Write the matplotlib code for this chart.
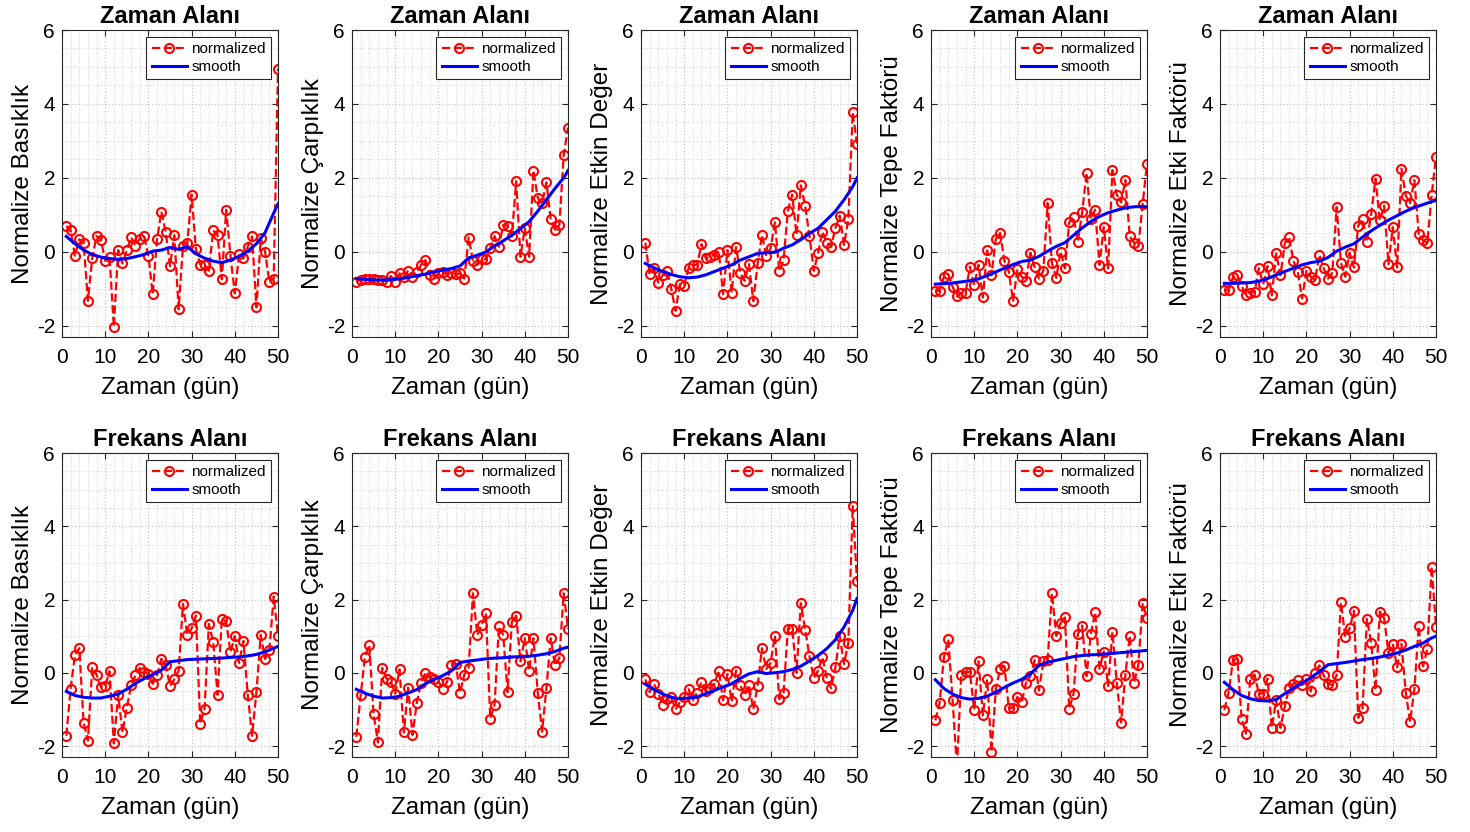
import matplotlib
matplotlib.use("Agg")
import matplotlib.pyplot as plt
from matplotlib.ticker import MultipleLocator

plt.rcParams['font.family'] = ['Liberation Sans', 'DejaVu Sans']
plt.rcParams['axes.unicode_minus'] = False

# gunler
days = list(range(1, 51))
smooth_days = list(range(1, 50, 2)) + [50]

# Zaman alani - normalized
zaman_basiklik = [0.7, 0.58, -0.1, 0.34, 0.25, -1.32, -0.17, 0.43, 0.33, -0.24,
                  -0.13, -2.03, 0.05, -0.31, 0.04, 0.4, 0.16, 0.36, 0.43, -0.11,
                  -1.14, 0.34, 1.09, 0.54, -0.38, 0.45, -1.55, 0.16, 0.24, 1.55,
                  0.07, -0.34, -0.34, -0.51, 0.58, 0.46, -0.74, 1.14, -0.11, -1.12,
                  -0.06, -0.17, 0.14, 0.42, -1.5, 0.37, 0.01, -0.81, -0.72, 4.95]
zaman_carpiklik = [-0.8, -0.76, -0.74, -0.74, -0.72, -0.76, -0.76, -0.8, -0.65, -0.8,
                   -0.58, -0.67, -0.51, -0.67, -0.53, -0.35, -0.22, -0.62, -0.74, -0.58,
                   -0.53, -0.62, -0.56, -0.6, -0.58, -0.72, 0.39, -0.24, -0.35, -0.2,
                   -0.2, 0.1, 0.43, 0.14, 0.73, 0.71, 0.42, 1.91, -0.13, 0.64,
                   -0.13, 2.2, 1.46, 1.32, 1.88, 0.89, 0.6, 0.73, 2.61, 3.36]
zaman_etkin = [0.25, -0.61, -0.44, -0.83, -0.63, -0.51, -0.99, -1.59, -0.87, -0.91,
               -0.44, -0.35, -0.35, 0.21, -0.17, -0.13, -0.08, 0.01, -1.14, 0.05,
               -1.1, 0.13, -0.58, -0.78, -0.33, -1.33, -0.31, 0.46, -0.11, 0.1,
               0.8, -0.52, -0.22, 1.12, 1.55, 0.46, 1.8, 1.25, 0.43, -0.51,
               -0.02, 0.55, 0.25, 0.14, 0.64, 0.98, 0.19, 0.89, 3.77, 2.93]
zaman_tepe = [-1.05, -1.05, -0.67, -0.6, -0.94, -1.2, -1.12, -1.1, -0.4, -0.9,
              -0.35, -1.23, 0.04, -0.63, 0.35, 0.51, -0.24, -0.53, -1.32, -0.47,
              -0.67, -0.78, -0.02, -0.42, -0.72, -0.51, 1.32, -0.31, -0.7, 0.01,
              -0.44, 0.8, 0.94, 0.28, 1.07, 2.14, 0.89, 1.14, -0.35, 0.67,
              -0.44, 2.21, 1.55, 1.34, 1.94, 0.42, 0.25, 0.16, 1.3, 2.39]
zaman_etki = [-1.03, -1.03, -0.69, -0.63, -0.91, -1.17, -1.1, -1.08, -0.44, -0.87,
              -0.38, -1.17, -0.04, -0.63, 0.24, 0.4, -0.24, -0.53, -1.26, -0.51,
              -0.67, -0.76, -0.08, -0.44, -0.72, -0.56, 1.21, -0.29, -0.67, -0.02,
              -0.42, 0.71, 0.89, 0.28, 1.03, 1.98, 0.85, 1.25, -0.33, 0.67,
              -0.42, 2.25, 1.52, 1.32, 1.94, 0.49, 0.31, 0.25, 1.55, 2.57]

# Frekans alani - normalized
frekans_basiklik = [-1.72, -0.43, 0.49, 0.67, -1.36, -1.85, 0.15, -0.05, -0.39, -0.36,
                    0.04, -1.93, -0.6, -1.63, -0.95, -0.34, -0.07, 0.13, 0.02, -0.03,
                    -0.3, -0.07, 0.38, 0.2, -0.36, -0.18, 0.06, 1.88, 1.03, 1.21,
                    1.56, -1.39, -0.98, 1.33, 0.85, -0.6, 1.47, 1.4, 0.56, 1.0,
                    0.27, 0.87, -0.6, -1.72, -0.53, 1.03, 0.38, 0.61, 2.08, 1.01]
frekans_carpiklik = [-1.75, -0.62, 0.43, 0.76, -1.13, -1.9, 0.13, -0.16, -0.24, -0.57,
                     0.09, -1.63, -0.41, -1.7, -0.82, -0.27, 0.0, -0.12, -0.18, -0.24,
                     -0.43, -0.25, 0.22, 0.24, -0.54, -0.05, 0.13, 2.17, 1.03, 1.3,
                     1.63, -1.25, -0.87, 1.27, 1.03, -0.53, 1.39, 1.56, 0.31, 0.94,
                     0.06, 0.94, -0.54, -1.61, -0.42, 0.94, 0.2, 0.4, 2.17, 1.2]
frekans_etkin = [-0.18, -0.53, -0.3, -0.57, -0.87, -0.72, -0.66, -1.0, -0.8, -0.66,
                 -0.45, -0.75, -0.54, -0.25, -0.51, -0.42, -0.3, 0.06, -0.75, -0.03,
                 -0.78, 0.06, -0.34, -0.62, -0.33, -1.0, -0.36, 0.67, 0.1, 0.27,
                 1.01, -0.72, -0.54, 1.2, 1.2, 0.0, 1.9, 1.18, 0.45, -0.14,
                 0.06, 0.43, -0.14, -0.42, 0.15, 1.01, 0.24, 0.82, 4.55, 2.51]
frekans_tepe = [-1.3, -0.82, 0.43, 0.91, -0.75, -2.6, -0.05, 0.02, 0.02, -1.02,
                0.31, -1.16, -0.18, -2.16, -0.45, 0.11, 0.18, -0.96, -0.96, -0.66,
                -0.8, -0.27, -0.09, 0.34, -0.48, 0.31, 0.36, 2.17, 1.01, 1.36,
                1.51, -0.98, -0.57, 1.06, 1.29, -0.09, 1.06, 1.65, 0.11, 0.58,
                -0.36, 1.12, -0.27, -1.36, -0.05, 1.01, -0.27, 0.22, 1.9, 1.49]
frekans_etki = [-1.02, -0.54, 0.34, 0.38, -1.25, -1.66, -0.18, -0.05, -0.57, -0.57,
                -0.16, -1.5, -0.75, -1.5, -0.91, -0.42, -0.3, -0.21, -0.34, -0.18,
                -0.51, 0.0, 0.2, -0.07, -0.3, -0.34, -0.07, 1.92, 0.97, 1.21,
                1.69, -1.23, -0.96, 1.47, 0.82, -0.48, 1.67, 1.49, 0.54, 0.79,
                0.15, 0.79, -0.54, -1.34, -0.45, 1.27, 0.18, 0.65, 2.9, 1.24]

# smooth egrileri (smooth_days noktalarinda)
smooth_zaman_basiklik = [0.42, 0.22, 0.05, -0.07, -0.14, -0.18, -0.2, -0.18, -0.13, -0.07, 0.02, 0.05, 0.12,
                         0.07, 0.14, -0.05, -0.17, -0.25, -0.29, -0.22, -0.12, 0.02, 0.22, 0.52, 1.05, 1.3]
smooth_zaman_carpiklik = [-0.72, -0.74, -0.76, -0.76, -0.75, -0.73, -0.69, -0.64, -0.6, -0.54, -0.49, -0.45, -0.38,
                          -0.16, -0.09, 0.0, 0.16, 0.3, 0.45, 0.63, 0.82, 1.1, 1.41, 1.72, 2.0, 2.2]
smooth_zaman_etkin = [-0.31, -0.43, -0.53, -0.61, -0.67, -0.7, -0.68, -0.62, -0.53, -0.44, -0.35, -0.22, -0.13,
                      -0.04, -0.02, -0.01, 0.1, 0.19, 0.33, 0.5, 0.64, 0.87, 1.1, 1.41, 1.76, 2.0]
smooth_zaman_tepe = [-0.87, -0.86, -0.84, -0.81, -0.78, -0.73, -0.64, -0.54, -0.44, -0.34, -0.26, -0.22, -0.12,
                     0.02, 0.15, 0.25, 0.45, 0.65, 0.82, 0.96, 1.06, 1.13, 1.19, 1.22, 1.23, 1.22]
smooth_zaman_etki = [-0.85, -0.85, -0.84, -0.83, -0.79, -0.72, -0.62, -0.53, -0.44, -0.35, -0.29, -0.25, -0.15,
                     0.02, 0.13, 0.22, 0.4, 0.57, 0.72, 0.86, 0.98, 1.1, 1.2, 1.28, 1.36, 1.39]
smooth_frekans_basiklik = [-0.51, -0.62, -0.67, -0.69, -0.69, -0.64, -0.58, -0.45, -0.29, -0.16, -0.05, 0.07, 0.3,
                           0.33, 0.36, 0.37, 0.38, 0.39, 0.4, 0.42, 0.43, 0.46, 0.5, 0.57, 0.67, 0.72]
smooth_frekans_carpiklik = [-0.45, -0.56, -0.64, -0.69, -0.68, -0.64, -0.55, -0.46, -0.3, -0.18, -0.08, 0.05, 0.28,
                            0.32, 0.35, 0.38, 0.4, 0.41, 0.43, 0.44, 0.45, 0.48, 0.52, 0.58, 0.67, 0.7]
smooth_frekans_etkin = [-0.31, -0.46, -0.58, -0.67, -0.71, -0.69, -0.66, -0.57, -0.48, -0.39, -0.3, -0.15, -0.03,
                        0.03, -0.02, 0.0, 0.03, 0.09, 0.18, 0.32, 0.47, 0.66, 0.9, 1.25, 1.7, 2.03]
smooth_frekans_tepe = [-0.19, -0.43, -0.58, -0.68, -0.72, -0.7, -0.64, -0.53, -0.4, -0.28, -0.18, -0.03, 0.2,
                       0.29, 0.34, 0.39, 0.44, 0.47, 0.49, 0.5, 0.52, 0.54, 0.56, 0.58, 0.6, 0.61]
smooth_frekans_etki = [-0.26, -0.46, -0.62, -0.71, -0.76, -0.77, -0.73, -0.57, -0.42, -0.28, -0.14, 0.03, 0.22,
                       0.25, 0.28, 0.32, 0.36, 0.39, 0.43, 0.48, 0.54, 0.62, 0.72, 0.81, 0.95, 1.0]

ylabels = ['Normalize Basıklık', 'Normalize Çarpıklık', 'Normalize Etkin Değer',
           'Normalize Tepe Faktörü', 'Normalize Etki Faktörü']
titles = ['Zaman Alanı', 'Frekans Alanı']

rows = [
    [(zaman_basiklik, smooth_zaman_basiklik), (zaman_carpiklik, smooth_zaman_carpiklik),
     (zaman_etkin, smooth_zaman_etkin), (zaman_tepe, smooth_zaman_tepe),
     (zaman_etki, smooth_zaman_etki)],
    [(frekans_basiklik, smooth_frekans_basiklik), (frekans_carpiklik, smooth_frekans_carpiklik),
     (frekans_etkin, smooth_frekans_etkin), (frekans_tepe, smooth_frekans_tepe),
     (frekans_etki, smooth_frekans_etki)],
]

W, H = 1470, 832
fig = plt.figure(figsize=(W / 100, H / 100), dpi=100)

lefts = [62, 352, 641, 931, 1220]
tops = [30, 453]
bottoms = [337, 757]
ax_w = 216

axis_col = '#262626'

for r in range(2):
    for c in range(5):
        norm, smooth = rows[r][c]
        ax = fig.add_axes([lefts[c] / W, 1 - bottoms[r] / H, ax_w / W, (bottoms[r] - tops[r]) / H])
        ax.plot(days, norm, '--o', color='red', linewidth=1.6, markersize=6.5,
                markerfacecolor='none', markeredgewidth=1.5, label='normalized')
        ax.plot(smooth_days, smooth, '-', color='blue', linewidth=2.2, label='smooth')
        ax.set_xlim(0, 50)
        ax.set_ylim(-2.3, 6)
        ax.set_xticks([0, 10, 20, 30, 40, 50])
        ax.set_yticks([-2, 0, 2, 4, 6])
        ax.xaxis.set_minor_locator(MultipleLocator(2))
        ax.yaxis.set_minor_locator(MultipleLocator(0.5))
        ax.grid(which='major', color='#c8c8c8', linestyle=':', linewidth=0.9)
        ax.grid(which='minor', color='#d8d8d8', linestyle=':', linewidth=0.7)
        ax.set_axisbelow(True)
        ax.tick_params(which='major', direction='in', top=True, right=True, length=4,
                       labelsize=15, color=axis_col, labelcolor='black')
        ax.tick_params(axis='x', which='major', pad=8)
        ax.tick_params(axis='y', which='major', pad=5)
        ax.tick_params(which='minor', length=0)
        for sp in ax.spines.values():
            sp.set_color(axis_col)
            sp.set_linewidth(0.8)
        ax.set_title(titles[r], fontsize=17, fontweight='bold', pad=5)
        ax.set_xlabel('Zaman (gün)', fontsize=17.5, labelpad=7)
        ax.set_ylabel(ylabels[c], fontsize=17.5, labelpad=2)
        leg = ax.legend(loc='upper right', fontsize=11, fancybox=False, framealpha=1,
                        edgecolor=axis_col, handlelength=2.3, borderaxespad=0.45,
                        borderpad=0.35, labelspacing=0.25, handletextpad=0.3)
        leg.get_frame().set_linewidth(0.8)

fig.savefig('out.png', dpi=100)
